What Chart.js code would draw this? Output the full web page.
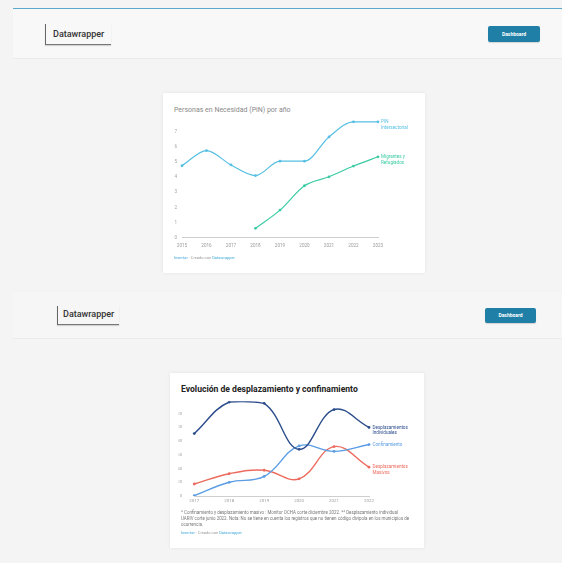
<!DOCTYPE html>
<html>
<head>
<meta charset="utf-8">
<script src="https://cdn.jsdelivr.net/npm/chart.js@4"></script>
<style>
  body { margin: 0; width: 562px; height: 563px; background: #f4f4f4; font-family: Roboto, sans-serif; position: relative; overflow: hidden; }
  .abs { position: absolute; }
  .topline { left: 13px; right: 0; top: 8px; height: 1px; background: #5aa8cc; }
  .band { left: 13px; right: 0; background: #f8f8f8; border-bottom: 1px solid #ebebeb; }
  .logo { border-left: 1px solid #666; border-bottom: 1px solid #777; box-shadow: 0 1px 1px rgba(0,0,0,0.15); color: #333; font-size: 9px; font-weight: 500; }
  .btn { background: #1f7fa6; color: #fff; font-size: 5px; font-weight: 700; text-align: center; border-radius: 2px; box-shadow: 0 1px 1px rgba(0,0,0,0.15); }
  .card { background: #fff; box-shadow: 0 0 3px rgba(0,0,0,0.08); }
  .title1 { color: #8a8a8a; font-size: 7px; white-space: nowrap; }
  .title2 { color: #222; font-size: 8.6px; font-weight: 700; white-space: nowrap; }
  .foot { font-size: 4px; color: #999; white-space: nowrap; }
  .foot b { color: #3fa9d8; font-weight: 400; }
  .note { font-size: 4.45px; line-height: 5.8px; color: #777; white-space: nowrap; }
</style>
</head>
<body>
<div class="abs topline"></div>
<div class="abs band" style="top:9px;height:49px"></div>
<div class="abs logo" style="left:45px;top:24px;width:65px;height:20px;">
  <div class="abs" style="left:7px;top:5px">Datawrapper</div>
</div>
<div class="abs btn" style="left:488px;top:26px;width:52px;height:16px;line-height:16px">Dashboard</div>

<div class="abs card" style="left:163px;top:93px;width:262px;height:180px"></div>
<div class="abs title1" style="left:174px;top:106px">Personas en Necesidad (PiN) por año</div>
<canvas id="pinChart" class="abs" width="262" height="180" style="left:163px;top:93px"></canvas>
<div class="abs foot" style="left:174px;top:255px"><b>Insertar</b> · Creado con <b>Datawrapper</b></div>

<div class="abs band" style="top:292px;height:46px;background:#f6f6f6"></div>
<div class="abs logo" style="left:57px;top:306px;width:61px;height:18px;">
  <div class="abs" style="left:5px;top:3px">Datawrapper</div>
</div>
<div class="abs btn" style="left:485px;top:308px;width:51px;height:15px;line-height:15px">Dashboard</div>

<div class="abs card" style="left:170px;top:373px;width:254px;height:175px"></div>
<div class="abs title2" style="left:181px;top:384px">Evolución de desplazamiento y confinamiento</div>
<canvas id="despChart" class="abs" width="254" height="175" style="left:170px;top:373px"></canvas>
<div class="abs note" style="left:181px;top:510px">* Confinamiento y desplazamiento masivo : Monitor OCHA corte diciembre 2022. ** Desplazamiento individual<br>UARIV corte junio 2022. Nota: No se tiene en cuenta los registros que no tienen código divipola en los municipios de<br>ocurrencia.</div>
<div class="abs foot" style="left:181px;top:530px"><b>Insertar</b> · Creado con <b>Datawrapper</b></div>

<script>
// --- Personas en Necesidad (millones) ---
const pinYears = ['2015', '2016', '2017', '2018', '2019', '2020', '2021', '2022', '2023'];
const pinIntersectorial = [4.75, 5.75, 4.8, 4.1, 5.05, 5.05, 6.65, 7.65, 7.65];
const pinMigrantes = [null, null, null, 0.62, 1.82, 3.43, 4.02, 4.73, 5.34];
const pinNames = [['PIN', 'Intersectorial'], ['Migrantes y', 'Refugiados']];
const pinTicks = [0, 1, 2, 3, 4, 5, 6, 7];

// --- Desplazamiento y confinamiento (miles) ---
const despYears = ['2017', '2018', '2019', '2020', '2021', '2022'];
const despIndividuales = [91, 137, 135, 68, 126, 100];
const despConfinamiento = [0.5, 20, 28.5, 73, 65, 75];
const despMasivos = [17.5, 32.5, 37.5, 25, 72, 42];
const despNames = [['Desplazamientos', 'Individuales'], ['Confinamiento'], ['Desplazamientos', 'Masivos']];
const despTicks = [0, 20, 40, 60, 80, 100, 120];

// labels at the end of every line, same colour as the line
const endLabels = {
  id: 'endLabels',
  afterDatasetsDraw(chart, args, opts) {
    const ctx = chart.ctx;
    ctx.save();
    ctx.font = opts.size + 'px Roboto';
    ctx.textBaseline = 'middle';
    chart.data.datasets.forEach((ds, i) => {
      const meta = chart.getDatasetMeta(i);
      const pt = meta.data[meta.data.length - 1];
      ctx.fillStyle = ds.borderColor;
      opts.names[i].forEach((line, j) => ctx.fillText(line, pt.x + opts.dx, pt.y + j * opts.lh));
    });
    ctx.restore();
  }
};

function line(data, color, width, tension) {
  return {
    data: data,
    borderColor: color,
    backgroundColor: color,
    borderWidth: width,
    pointRadius: 1.4,
    pointBorderWidth: 0,
    tension: tension,
    cubicInterpolationMode: tension ? 'default' : 'monotone',
    spanGaps: false
  };
}

function axes(ticks, yMax, yWidth, yPad, xHeight, xPad, fontSize) {
  return {
    x: {
      offset: false,
      grid: { display: false, drawTicks: false },
      border: { display: true, color: '#cfcfcf', width: 1 },
      ticks: { color: '#9a9a9a', font: { size: fontSize, family: 'Roboto' }, padding: xPad, maxRotation: 0, autoSkip: false },
      afterFit: s => { s.height = xHeight; }
    },
    y: {
      min: 0,
      max: yMax,
      grid: { display: false, drawTicks: false },
      border: { display: false },
      ticks: { color: '#a5a5a5', font: { size: fontSize, family: 'Roboto' }, padding: yPad },
      afterBuildTicks: s => { s.ticks = ticks.map(v => ({ value: v })); },
      afterFit: s => { s.width = yWidth; }
    }
  };
}

new Chart(document.getElementById('pinChart'), {
  type: 'line',
  data: {
    labels: pinYears,
    datasets: [
      line(pinIntersectorial, '#56bfe3', 1.2, 0),
      line(pinMigrantes, '#3bcba4', 1.2, 0)
    ]
  },
  options: {
    responsive: false,
    animation: false,
    layout: { padding: { left: 7, top: 25, right: 47, bottom: 23.3 } },
    scales: axes(pinTicks, 7.9, 12, 5, 12, 5, 4.6),
    plugins: {
      legend: { display: false },
      tooltip: { enabled: false },
      endLabels: { names: pinNames, dx: 3, lh: 6.3, size: 4.6 }
    }
  },
  plugins: [endLabels]
});

new Chart(document.getElementById('despChart'), {
  type: 'line',
  data: {
    labels: despYears,
    datasets: [
      line(despIndividuales, '#2c4d8c', 1.4, 0.4),
      line(despConfinamiento, '#5b9de3', 1.4, 0.4),
      line(despMasivos, '#ec6b5e', 1.4, 0.4)
    ]
  },
  options: {
    responsive: false,
    animation: false,
    layout: { padding: { left: 8.3, top: 28.3, right: 55, bottom: 42 } },
    scales: axes(despTicks, 138, 16, 12, 10, 2, 4.4),
    plugins: {
      legend: { display: false },
      tooltip: { enabled: false },
      endLabels: { names: despNames, dx: 3.5, lh: 5.8, size: 4.6 }
    }
  },
  plugins: [endLabels]
});
</script>
</body>
</html>
